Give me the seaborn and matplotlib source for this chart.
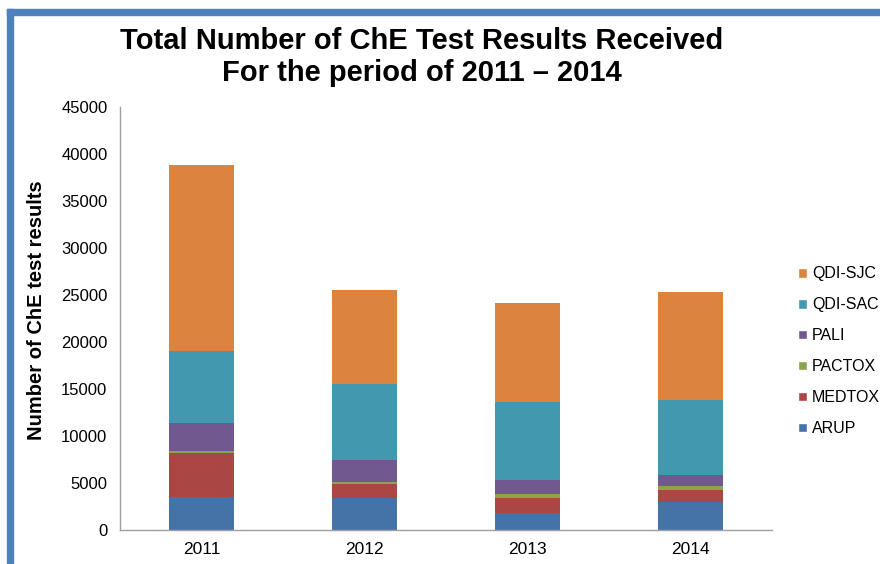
import numpy as np
import pandas as pd
import matplotlib
matplotlib.use("Agg")
import matplotlib.pyplot as plt
from matplotlib.patches import Rectangle, Patch
import seaborn as sns

years = ["2011", "2012", "2013", "2014"]
series = ["ARUP", "MEDTOX", "PACTOX", "PALI", "QDI-SAC", "QDI-SJC"]
arup = [3480, 3400, 1810, 2980]
medtox = [4680, 1530, 1590, 1280]
pactox = [250, 200, 430, 420]
pali = [2950, 2310, 1490, 1170]
qdi_sac = [7690, 8080, 8300, 7980]
qdi_sjc = [19790, 10000, 10490, 11490]
colors = ["#4572A7", "#AA4643", "#89A54E", "#71588F", "#4198AF", "#DB843D"]
yticks = list(range(0, 45001, 5000))

sns.set_style("white")
plt.rcParams["font.family"] = ["Liberation Sans", "DejaVu Sans"]
plt.rcParams["text.color"] = "black"

df = pd.DataFrame({"year": years, "ARUP": arup, "MEDTOX": medtox, "PACTOX": pactox,
                   "PALI": pali, "QDI-SAC": qdi_sac, "QDI-SJC": qdi_sjc})

fig = plt.figure(figsize=(8.8, 5.64), dpi=100)
ax = fig.add_axes([120 / 880, 1 - 530 / 564, 652 / 880, 423 / 564])

# stacked bars
bottom = np.zeros(len(years))
for name, c in zip(series, colors):
    sns.barplot(data=df, x="year", y=name, color=c, width=0.4, bottom=bottom,
                saturation=1, ax=ax, linewidth=0)
    bottom += df[name].values

ax.set_xlim(-0.5, 3.5)
ax.set_ylim(0, 45000)
ax.set_yticks(yticks)
ax.set_yticklabels([str(t) for t in yticks], fontsize=12)
ax.set_xlabel("")
ax.set_ylabel("")
ax.set_xticks(range(len(years)))
ax.set_xticklabels(years, fontsize=12.5)
ax.set_xticks(np.arange(-0.5, 4, 1), minor=True)
ax.tick_params(axis="x", which="major", length=0, pad=9, labelcolor="black")
ax.tick_params(axis="x", which="minor", length=5, color="#a0a0a0", width=1)
ax.tick_params(axis="y", length=5, color="#a0a0a0", width=1, pad=4, labelcolor="black")
for s in ["top", "right"]:
    ax.spines[s].set_visible(False)
for s in ["left", "bottom"]:
    ax.spines[s].set_color("#a0a0a0")
    ax.spines[s].set_linewidth(1)

fig.text(422 / 880, 1 - 57 / 564,
         "Total Number of ChE Test Results Received\nFor the period of 2011 \u2013 2014",
         ha="center", va="center", fontsize=21, fontweight="bold", linespacing=1.15,
         color="black")
fig.text(37 / 880, 1 - 310 / 564, "Number of ChE test results", rotation=90,
         ha="center", va="center", fontsize=14.5, fontweight="bold", color="black")

handles = [Patch(facecolor=c, label=n) for n, c in zip(series, colors)][::-1]
leg = fig.legend(handles=handles, loc="upper left", bbox_to_anchor=(792 / 880, 1 - 260 / 564),
                 frameon=False, fontsize=11.5, handlelength=0.55, handleheight=0.55,
                 handletextpad=0.3, labelspacing=1.0, borderaxespad=0)
for t in leg.get_texts():
    t.set_color("black")

# blue slide frame
fig.patches.append(Rectangle((7 / 880, 1 - 15 / 564), 1, 6 / 564, transform=fig.transFigure,
                             color="#4F81BD", zorder=10))
fig.patches.append(Rectangle((7 / 880, 0), 6 / 880, 1 - 9 / 564, transform=fig.transFigure,
                             color="#4F81BD", zorder=10))

fig.savefig("out.png", dpi=100)
